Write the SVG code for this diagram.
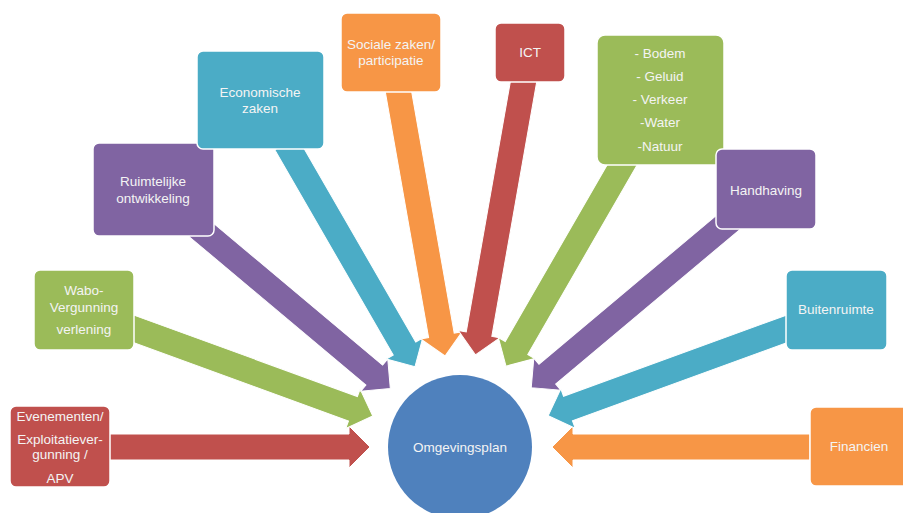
<svg xmlns="http://www.w3.org/2000/svg" width="903" height="513" viewBox="0 0 903 513">
<style>
.box{stroke:#ffffff;stroke-width:1.5}
.arr{stroke:#ffffff;stroke-width:1}
.t{font-family:"Liberation Sans",Arial,sans-serif;font-size:13.5px;fill:#F4F4F4;text-anchor:middle}
.red{fill:#C0504D}.org{fill:#F79646}.teal{fill:#4BACC6}.pur{fill:#8064A2}.grn{fill:#9BBB59}.blu{fill:#4F81BD}
</style>
<rect width="903" height="513" fill="#ffffff"/>
<g id="connectors">
<path class="arr red" transform="translate(108,447) rotate(0)" d="M0,-13 H241 V-21 L262,0 L241,21 V13 H0 Z"/>
<path class="arr org" transform="translate(810,447) rotate(180)" d="M0,-13 H237 V-21 L258,0 L237,21 V13 H0 Z"/>
<path class="arr grn" transform="translate(124.6,325.6) rotate(20)" d="M0,-13 H243 V-21 L264,0 L243,21 V13 H0 Z"/>
<path class="arr pur" transform="translate(197.3,226.6) rotate(40)" d="M0,-13 H231 V-21 L252,0 L231,21 V13 H0 Z"/>
<path class="arr teal" transform="translate(286,143.3) rotate(60)" d="M0,-13 H237 V-21 L258,0 L237,21 V13 H0 Z"/>
<path class="arr org" transform="translate(397.3,85.2) rotate(80)" d="M0,-13 H254 V-21 L275,0 L254,21 V13 H0 Z"/>
<path class="arr red" transform="translate(524.7,75.2) rotate(100)" d="M0,-13 H263 V-21 L284,0 L263,21 V13 H0 Z"/>
<path class="arr grn" transform="translate(626,158.3) rotate(120)" d="M0,-13 H219 V-21 L240,0 L219,21 V13 H0 Z"/>
<path class="arr pur" transform="translate(732.7,218.6) rotate(140)" d="M0,-13 H242 V-21 L263,0 L242,21 V13 H0 Z"/>
<path class="arr teal" transform="translate(795.4,325.7) rotate(160)" d="M0,-13 H242 V-21 L263,0 L242,21 V13 H0 Z"/>
</g>
<g id="omgevingsplan">
<circle class="blu" cx="460" cy="447" r="72"/>
<text class="t" x="460" y="452">Omgevingsplan</text>
</g>
<g id="evenementen">
<rect class="box red" x="10" y="406" width="100" height="81" rx="6"/>
<text class="t" x="60" y="421">Evenementen/</text>
<text class="t" x="60" y="444">Exploitatiever-</text>
<text class="t" x="60" y="459">gunning /</text>
<text class="t" x="60" y="483">APV</text>
</g>
<g id="wabo">
<rect class="box grn" x="34" y="270" width="100" height="80" rx="6"/>
<text class="t" x="84" y="295">Wabo-</text>
<text class="t" x="84" y="312">Vergunning</text>
<text class="t" x="84" y="334">verlening</text>
</g>
<g id="ruimtelijke">
<rect class="box pur" x="93" y="143" width="121" height="93" rx="6"/>
<text class="t" x="153" y="186">Ruimtelijke</text>
<text class="t" x="153" y="203">ontwikkeling</text>
</g>
<g id="economische">
<rect class="box teal" x="197" y="51" width="127" height="98" rx="6"/>
<text class="t" x="260" y="97">Economische</text>
<text class="t" x="260" y="113">zaken</text>
</g>
<g id="sociale">
<rect class="box org" x="341" y="13" width="100" height="79" rx="6"/>
<text class="t" x="391" y="49">Sociale zaken/</text>
<text class="t" x="391" y="65">participatie</text>
</g>
<g id="ict">
<rect class="box red" x="495" y="23" width="70" height="59" rx="6"/>
<text class="t" x="530" y="57">ICT</text>
</g>
<g id="milieu">
<rect class="box grn" x="597" y="35" width="127" height="130" rx="8"/>
<text class="t" x="660" y="58">- Bodem</text>
<text class="t" x="660" y="81">- Geluid</text>
<text class="t" x="660" y="104">- Verkeer</text>
<text class="t" x="660" y="127">-Water</text>
<text class="t" x="660" y="151">-Natuur</text>
</g>
<g id="handhaving">
<rect class="box pur" x="716" y="149" width="100" height="80" rx="6"/>
<text class="t" x="766" y="195">Handhaving</text>
</g>
<g id="buitenruimte">
<rect class="box teal" x="786" y="270" width="101" height="80" rx="6"/>
<text class="t" x="836" y="314">Buitenruimte</text>
</g>
<g id="financien">
<rect class="box org" x="810" y="407" width="100" height="79" rx="6"/>
<text class="t" x="859" y="451">Financien</text>
</g>
</svg>
